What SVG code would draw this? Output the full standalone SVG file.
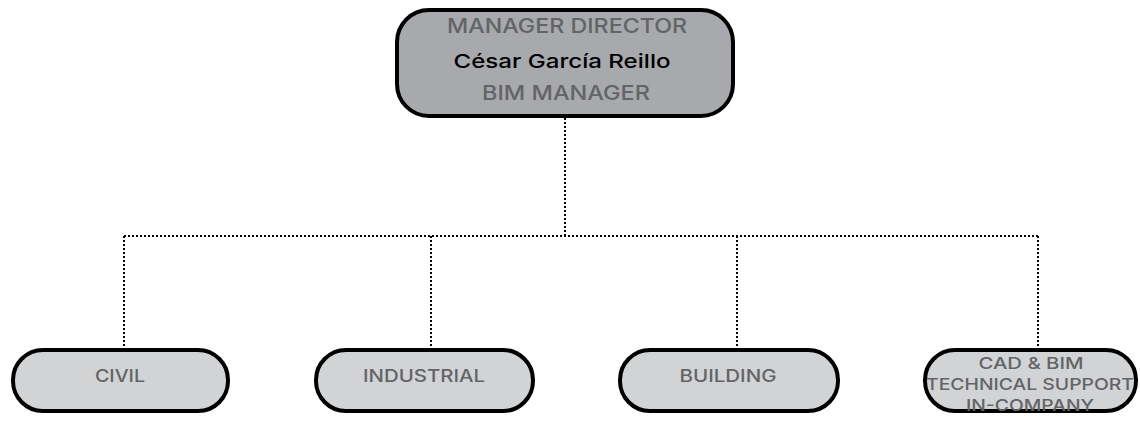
<svg xmlns="http://www.w3.org/2000/svg" width="1140" height="421" viewBox="0 0 1140 421">
<style>
.box{stroke:#000;stroke-width:4}
.top{fill:#a7a9ac}
.sub{fill:#d1d3d4}
.t{font-family:Inter,Roboto,"Liberation Sans",sans-serif;font-weight:500;text-anchor:middle}
.g{fill:#636466}
.k{fill:#000}
.c{fill:none;stroke:#000;stroke-width:2;stroke-dasharray:2 2}
</style>
<rect width="1140" height="421" fill="#fff"/>
<g id="connectors">
<path class="c" d="M565 118V236"/>
<path class="c" d="M124 236H1038"/>
<path class="c" d="M124 236V348"/>
<path class="c" d="M431 236V348"/>
<path class="c" d="M737 236V348"/>
<path class="c" d="M1038 236V348"/>
</g>
<g id="manager">
<rect class="box top" x="397" y="10" width="336" height="106" rx="32"/>
<text class="t g" x="567" y="33" font-size="20" textLength="240" lengthAdjust="spacingAndGlyphs">MANAGER DIRECTOR</text>
<text class="t k" x="562" y="68" font-size="19" textLength="217" lengthAdjust="spacingAndGlyphs">César García Reillo</text>
<text class="t g" x="566" y="100" font-size="20" textLength="168" lengthAdjust="spacingAndGlyphs">BIM MANAGER</text>
</g>
<g id="civil">
<rect class="box sub" x="13" y="350" width="215" height="61" rx="30"/>
<text class="t g" x="120" y="382" font-size="17" textLength="50" lengthAdjust="spacingAndGlyphs">CIVIL</text>
</g>
<g id="industrial">
<rect class="box sub" x="316" y="350" width="217" height="61" rx="30"/>
<text class="t g" x="424" y="382" font-size="17" textLength="122" lengthAdjust="spacingAndGlyphs">INDUSTRIAL</text>
</g>
<g id="building">
<rect class="box sub" x="620" y="350" width="218" height="61" rx="30"/>
<text class="t g" x="728" y="382" font-size="17" textLength="97" lengthAdjust="spacingAndGlyphs">BUILDING</text>
</g>
<g id="cad">
<rect class="box sub" x="925" y="350" width="211" height="61" rx="30"/>
<text class="t g" x="1031" y="369" font-size="16" textLength="105" lengthAdjust="spacingAndGlyphs">CAD &amp; BIM</text>
<text class="t g" x="1030" y="390" font-size="16" textLength="208" lengthAdjust="spacingAndGlyphs">TECHNICAL SUPPORT</text>
<text class="t g" x="1030" y="411" font-size="16" textLength="128" lengthAdjust="spacingAndGlyphs">IN-COMPANY</text>
</g>
</svg>
